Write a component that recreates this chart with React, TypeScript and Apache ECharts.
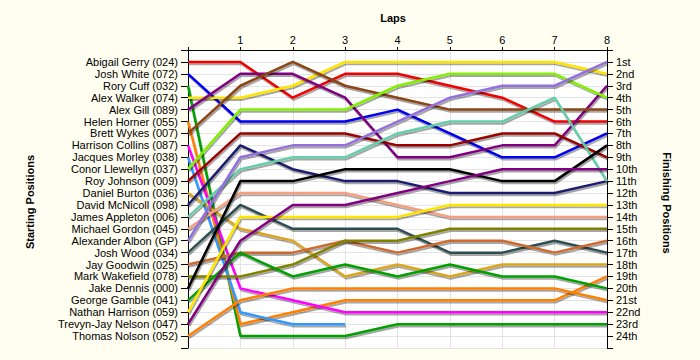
import React, { useEffect, useRef } from "react";
import * as echarts from "echarts";

const laps = [0, 1, 2, 3, 4, 5, 6, 7, 8];
const lapLabels = ["", "1", "2", "3", "4", "5", "6", "7", "8"];

const drivers = [
  "Abigail Gerry (024)",
  "Josh White (072)",
  "Rory Cuff (032)",
  "Alex Walker (074)",
  "Alex Gill (089)",
  "Helen Horner (055)",
  "Brett Wykes (007)",
  "Harrison Collins (087)",
  "Jacques Morley (038)",
  "Conor Llewellyn (037)",
  "Roy Johnson (009)",
  "Daniel Burton (036)",
  "David McNicoll (098)",
  "James Appleton (006)",
  "Michael Gordon (045)",
  "Alexander Albon (GP)",
  "Josh Wood (034)",
  "Jay Goodwin (025)",
  "Mark Wakefield (078)",
  "Jake Dennis (000)",
  "George Gamble (041)",
  "Nathan Harrison (059)",
  "Trevyn-Jay Nelson (047)",
  "Thomas Nolson (052)",
];

const finishLabels = [
  "1st", "2nd", "3rd", "4th", "5th", "6th", "7th", "8th", "9th", "10th",
  "11th", "12th", "13th", "14th", "15th", "16th", "17th", "18th", "19th", "20th",
  "21st", "22nd", "23rd", "24th",
];

// positions per lap (lap 0 .. lap 8), one array per driver
const posAbigail = [1, 1, 4, 2, 2, 3, 4, 6, 6];
const posJoshWhite = [2, 6, 6, 6, 5, 7, 9, 9, 7];
const posRory = [3, 24, 24, 24, 23, 23, 23, 23, 23];
const posAlexWalker = [4, 4, 3, 1, 1, 1, 1, 1, 2];
const posAlexGill = [5, 2, 2, 4, 9, 9, 8, 8, 3];
const posHelen = [6, 23, 22, 21, 21, 21, 21, 21, 19];
const posBrett = [7, 3, 1, 3, 4, 5, 5, 5, 5];
const posHarrison = [8, 20, 21, 22, 22, 22, 22, 22, 22];
const posJacques = [9, 22, 23, 23];
const posConor = [10, 5, 5, 5, 3, 2, 2, 2, 4];
const posRoy = [11, 7, 7, 7, 8, 8, 7, 7, 9];
const posDaniel = [12, 15, 16, 19, 18, 19, 18, 18, 18];
const posDavid = [13, 8, 10, 11, 11, 12, 12, 12, 11];
const posJames = [14, 10, 9, 9, 7, 6, 6, 4, 11];
const posMichael = [15, 12, 12, 12, 13, 14, 14, 14, 14];
const posAlexander = [16, 9, 8, 8, 6, 4, 3, 3, 1];
const posJoshWood = [17, 13, 15, 15, 15, 17, 17, 16, 17];
const posJay = [18, 17, 17, 16, 17, 16, 16, 17, 16];
const posMark = [19, 19, 18, 16, 16, 15, 15, 15, 15];
const posJake = [20, 11, 11, 10, 10, 10, 11, 11, 8];
const posGeorge = [21, 17, 19, 18, 19, 18, 19, 19, 20];
const posNathan = [22, 14, 14, 14, 14, 13, 13, 13, 13];
const posTrevyn = [23, 16, 13, 13, 12, 11, 10, 10, 10];
const posThomas = [24, 21, 20, 20, 20, 20, 20, 20, 21];

const positions = [
  posAbigail, posJoshWhite, posRory, posAlexWalker, posAlexGill, posHelen,
  posBrett, posHarrison, posJacques, posConor, posRoy, posDaniel, posDavid,
  posJames, posMichael, posAlexander, posJoshWood, posJay, posMark, posJake,
  posGeorge, posNathan, posTrevyn, posThomas,
];

const colors = [
  "#F00000", "#0000F0", "#00A000", "#FFE400", "#800080", "#FF8000",
  "#8B4513", "#FF00FF", "#3399FF", "#80F000", "#990000", "#DAA520",
  "#1E1E6E", "#66CDAA", "#F4A080", "#9370DB", "#2F4F4F", "#CD6A2E",
  "#808000", "#000000", "#00A000", "#FFE400", "#800080", "#FF8000",
];

const FONT = "'Liberation Sans', Arial, sans-serif";

export default function App() {
  const ref = useRef<HTMLDivElement>(null);
  useEffect(() => {
    if (!ref.current) return;
    const chart = echarts.init(ref.current, undefined, { renderer: "svg" });
    const series = drivers.map((name, i) => ({
      name,
      type: "line",
      data: positions[i].map((p, k) => [laps[k], p]),
      symbol: "none",
      color: colors[i],
      lineStyle: {
        width: 2.5,
        color: colors[i],
        shadowColor: "rgba(0,0,0,0.35)",
        shadowOffsetX: 1,
        shadowOffsetY: 2,
        shadowBlur: 1,
      },
      emphasis: { disabled: true },
      z: 2,
    }));
    chart.setOption({
      animation: false,
      backgroundColor: "#FFFEF0",
      textStyle: { fontFamily: FONT },
      grid: {
        left: 188,
        right: 93,
        top: 50,
        bottom: 12,
        show: true,
        backgroundColor: "#FFFFFF",
        borderWidth: 0,
      },
      xAxis: {
        type: "value",
        position: "top",
        min: 0,
        max: 8,
        interval: 1,
        axisLine: { show: true, lineStyle: { color: "#000", width: 1 } },
        axisTick: { show: true, length: 3, lineStyle: { color: "#000" } },
        axisLabel: {
          margin: 5,
          fontSize: 11,
          color: "#000",
          fontFamily: FONT,
          formatter: (v: number) => lapLabels[v] ?? "",
        },
        splitLine: { show: true, lineStyle: { color: "#E4E4E4", width: 1 } },
      },
      yAxis: [
        {
          type: "value",
          position: "left",
          inverse: true,
          min: 0,
          max: 25,
          interval: 1,
          axisLine: { show: true, onZero: false, lineStyle: { color: "#000", width: 1 } },
          axisTick: { show: true, length: 7, lineStyle: { color: "#000" } },
          axisLabel: {
            margin: 10,
            fontSize: 11,
            color: "#000",
            fontFamily: FONT,
            hideOverlap: false,
            formatter: (v: number) => drivers[v - 1] ?? "",
          },
          splitLine: { show: true, lineStyle: { color: "#E4E4E4", width: 1 } },
        },
        {
          type: "value",
          position: "right",
          inverse: true,
          min: 0,
          max: 25,
          interval: 1,
          axisLine: { show: true, onZero: false, lineStyle: { color: "#000", width: 1 } },
          axisTick: { show: true, length: 6, lineStyle: { color: "#000" } },
          axisLabel: {
            margin: 9,
            fontSize: 11,
            color: "#000",
            fontFamily: FONT,
            hideOverlap: false,
            formatter: (v: number) => finishLabels[v - 1] ?? "",
          },
          splitLine: { show: false },
        },
      ],
      graphic: [
        {
          type: "text",
          x: 393,
          y: 18,
          style: {
            text: "Laps",
            fill: "#000",
            font: `bold 11px ${FONT}`,
            textAlign: "center",
            textVerticalAlign: "middle",
          },
        },
        {
          type: "text",
          x: 30,
          y: 202,
          rotation: Math.PI / 2,
          style: {
            text: "Starting Positions",
            fill: "#000",
            font: `bold 11px ${FONT}`,
            textAlign: "center",
            textVerticalAlign: "middle",
          },
        },
        {
          type: "text",
          x: 667,
          y: 203,
          rotation: -Math.PI / 2,
          style: {
            text: "Finishing Positions",
            fill: "#000",
            font: `bold 11px ${FONT}`,
            textAlign: "center",
            textVerticalAlign: "middle",
          },
        },
      ],
      series,
    });
    return () => chart.dispose();
  }, []);
  return (
    <div
      ref={ref}
      style={{ position: "fixed", left: 0, top: 0, width: 700, height: 360 }}
    />
  );
}
